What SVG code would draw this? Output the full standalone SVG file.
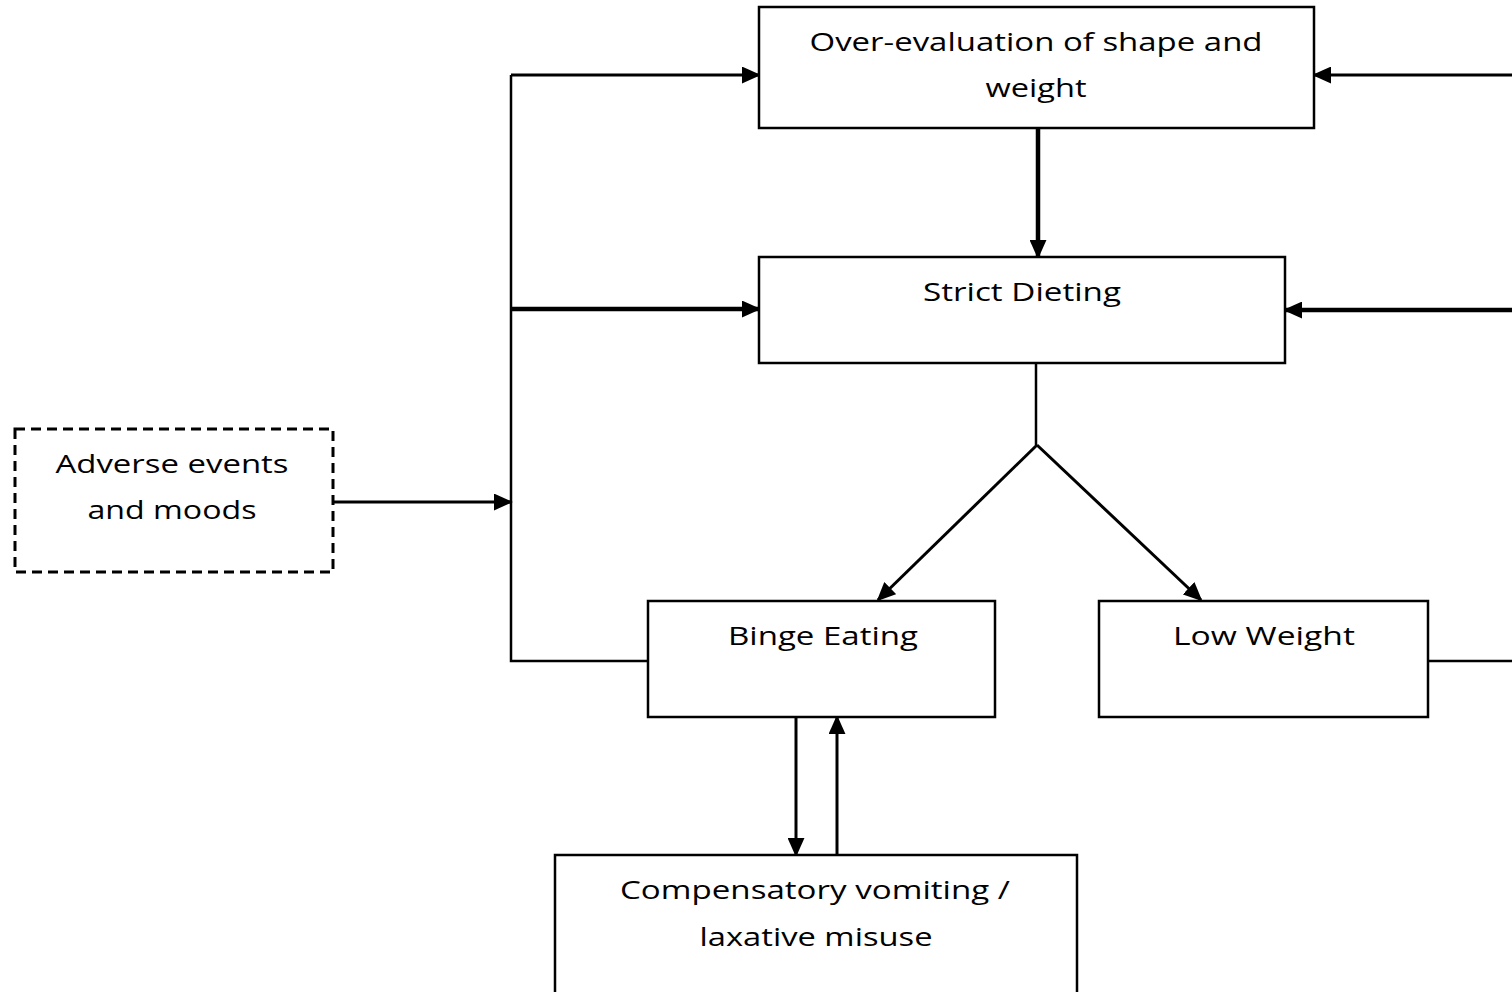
<svg xmlns="http://www.w3.org/2000/svg" width="1512" height="992" viewBox="0 0 1512 992">
<style>
.box{fill:#fff;stroke:#000;stroke-width:2.5}
.dash{fill:#fff;stroke:#000;stroke-width:3;stroke-dasharray:10 6}
.t{font-family:"Open Sans","Liberation Sans",sans-serif;font-size:26px;fill:#000;text-anchor:middle}
.c{fill:none;stroke:#000;stroke-width:3}
.ck{fill:none;stroke:#000;stroke-width:4.5}
.l{fill:none;stroke:#000;stroke-width:2.5}
</style>
<defs>
<marker id="ah" viewBox="0 0 10 10" refX="9" refY="5" markerWidth="19" markerHeight="17" markerUnits="userSpaceOnUse" orient="auto" preserveAspectRatio="none"><path d="M0,0 L10,5 L0,10 z" fill="#000"/></marker>
</defs>
<rect width="1512" height="992" fill="#fff"/>
<g id="connectors">
<path class="l" d="M648,661 H511 V75"/>
<path class="c" d="M511,75 H759" marker-end="url(#ah)"/>
<path class="ck" d="M511,309 H759" marker-end="url(#ah)"/>
<path class="c" d="M333,502 H511" marker-end="url(#ah)"/>
<path class="c" d="M1512,75 H1314" marker-end="url(#ah)"/>
<path class="ck" d="M1512,310 H1285" marker-end="url(#ah)"/>
<path class="l" d="M1428,661 H1512"/>
<path class="ck" d="M1038,128 V257" marker-end="url(#ah)"/>
<path class="l" d="M1036,363 V445"/>
<path class="c" d="M1037,445 L878,600" marker-end="url(#ah)"/>
<path class="c" d="M1037,445 L1201,600" marker-end="url(#ah)"/>
<path class="c" d="M796,717 V855" marker-end="url(#ah)"/>
<path class="c" d="M837,855 V717" marker-end="url(#ah)"/>
</g>
<g id="n-overeval">
<rect class="box" x="759" y="7" width="555" height="121"/>
<text class="t" x="1036" y="51" textLength="453" lengthAdjust="spacingAndGlyphs">Over-evaluation of shape and</text>
<text class="t" x="1036" y="97" textLength="101" lengthAdjust="spacingAndGlyphs">weight</text>
</g>
<g id="n-dieting">
<rect class="box" x="759" y="257" width="526" height="106"/>
<text class="t" x="1022" y="301" textLength="198" lengthAdjust="spacingAndGlyphs">Strict Dieting</text>
</g>
<g id="n-adverse">
<rect class="dash" x="15" y="429" width="318" height="143"/>
<text class="t" x="172" y="473" textLength="233" lengthAdjust="spacingAndGlyphs">Adverse events</text>
<text class="t" x="172" y="519" textLength="169" lengthAdjust="spacingAndGlyphs">and moods</text>
</g>
<g id="n-binge">
<rect class="box" x="648" y="601" width="347" height="116"/>
<text class="t" x="823" y="645" textLength="190" lengthAdjust="spacingAndGlyphs">Binge Eating</text>
</g>
<g id="n-lowweight">
<rect class="box" x="1099" y="601" width="329" height="116"/>
<text class="t" x="1264" y="645" textLength="182" lengthAdjust="spacingAndGlyphs">Low Weight</text>
</g>
<g id="n-compensatory">
<rect class="box" x="555" y="855" width="522" height="150"/>
<text class="t" x="815" y="899" textLength="390" lengthAdjust="spacingAndGlyphs">Compensatory vomiting /</text>
<text class="t" x="816" y="946" textLength="233" lengthAdjust="spacingAndGlyphs">laxative misuse</text>
</g>
</svg>
